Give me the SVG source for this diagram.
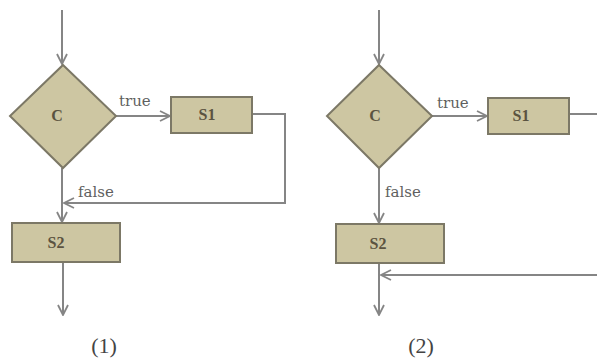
<svg xmlns="http://www.w3.org/2000/svg" width="597" height="360" viewBox="0 0 597 360">
<style>
.shape{fill:#cdc6a2;stroke:#7c7866;stroke-width:2}
.lbl{font-family:"Liberation Serif","DejaVu Serif",serif;font-weight:bold;font-size:16px;fill:#5b5340;text-anchor:middle}
.edge{fill:none;stroke:#858585;stroke-width:2}
.et{font-family:"DejaVu Serif","Liberation Serif",serif;font-size:15px;fill:#5f5f5f}
.cap{font-family:"Liberation Serif","DejaVu Serif",serif;font-size:22px;fill:#444;text-anchor:middle}
</style>
<defs>
<marker id="arr" viewBox="0 0 12 12" refX="11" refY="6" markerWidth="12" markerHeight="12" markerUnits="userSpaceOnUse" orient="auto">
<path d="M1,1 L11,6 L1,11" fill="none" stroke="#858585" stroke-width="1.8"/>
</marker>
</defs>
<g id="connectors">
<path class="edge" d="M62,10 V64" marker-end="url(#arr)"/>
<path class="edge" d="M116,116 H170" marker-end="url(#arr)"/>
<path class="edge" d="M62,168 V222" marker-end="url(#arr)"/>
<path class="edge" d="M252,114 H285 V203 H64" marker-end="url(#arr)"/>
<path class="edge" d="M63,262 V315" marker-end="url(#arr)"/>
<path class="edge" d="M379,10 V64" marker-end="url(#arr)"/>
<path class="edge" d="M432,116 H487" marker-end="url(#arr)"/>
<path class="edge" d="M379,168 V223" marker-end="url(#arr)"/>
<path class="edge" d="M569,114 H597"/>
<path class="edge" d="M597,275 H381" marker-end="url(#arr)"/>
<path class="edge" d="M379,263 V315" marker-end="url(#arr)"/>
<text class="et" x="119" y="106">true</text>
<text class="et" x="78" y="197">false</text>
<text class="et" x="437" y="108">true</text>
<text class="et" x="385" y="197">false</text>
</g>
<g id="c1"><path class="shape" d="M63,65 L116,116 L63,168 L10,116 Z"/><text class="lbl" x="57" y="121">C</text></g>
<g id="s1a"><rect class="shape" x="171" y="97" width="81" height="36"/><text class="lbl" x="207" y="120">S1</text></g>
<g id="s2a"><rect class="shape" x="12" y="223" width="108" height="39"/><text class="lbl" x="56" y="248">S2</text></g>
<g id="c2"><path class="shape" d="M379,65 L432,116 L379,168 L327,116 Z"/><text class="lbl" x="375" y="121">C</text></g>
<g id="s1b"><rect class="shape" x="488" y="98" width="81" height="36"/><text class="lbl" x="521" y="121">S1</text></g>
<g id="s2b"><rect class="shape" x="336" y="224" width="108" height="39"/><text class="lbl" x="378" y="249">S2</text></g>
<text class="cap" x="104" y="353">(1)</text>
<text class="cap" x="421" y="353">(2)</text>
</svg>
